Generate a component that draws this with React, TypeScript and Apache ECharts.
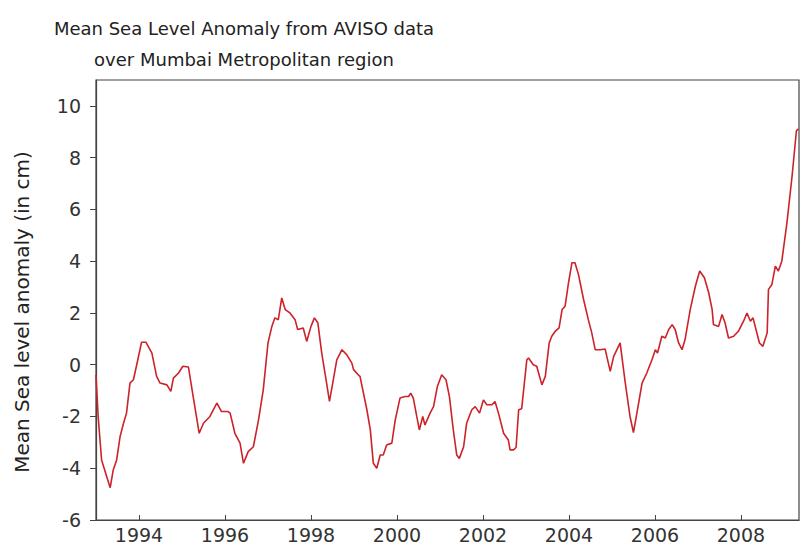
import React, { useEffect, useRef } from "react";
import * as echarts from "echarts";

// Decimal years
const years: number[] = [
  1993.0, 1993.05, 1993.13, 1993.25, 1993.33, 1993.4, 1993.48, 1993.56, 1993.64, 1993.71,
  1993.79, 1993.87, 1993.94, 1994.06, 1994.16, 1994.3, 1994.41, 1994.49, 1994.65, 1994.74,
  1994.8, 1994.92, 1995.02, 1995.15, 1995.26, 1995.4, 1995.5, 1995.65, 1995.81, 1995.92,
  1996.07, 1996.12, 1996.23, 1996.35, 1996.43, 1996.54, 1996.66, 1996.78, 1996.89, 1997.0,
  1997.09, 1997.16, 1997.24, 1997.32, 1997.4, 1997.51, 1997.63, 1997.69, 1997.82, 1997.9,
  1998.0, 1998.08, 1998.16, 1998.25, 1998.35, 1998.43, 1998.52, 1998.6, 1998.72, 1998.83,
  1998.95, 1998.99, 1999.1, 1999.14, 1999.3, 1999.38, 1999.45, 1999.53, 1999.61, 1999.68,
  1999.76, 1999.88, 1999.96, 2000.07, 2000.19, 2000.27, 2000.32, 2000.38, 2000.46, 2000.52,
  2000.6, 2000.65, 2000.77, 2000.85, 2000.94, 2001.04, 2001.14, 2001.22, 2001.31, 2001.39,
  2001.45, 2001.55, 2001.62, 2001.74, 2001.82, 2001.92, 2002.01, 2002.09, 2002.21, 2002.28,
  2002.36, 2002.48, 2002.59, 2002.63, 2002.71, 2002.77, 2002.83, 2002.9, 2003.02, 2003.06,
  2003.17, 2003.25, 2003.37, 2003.45, 2003.54, 2003.6, 2003.68, 2003.77, 2003.84, 2003.91,
  2003.99, 2004.07, 2004.14, 2004.22, 2004.34, 2004.45, 2004.53, 2004.61, 2004.73, 2004.84,
  2004.96, 2005.04, 2005.19, 2005.31, 2005.42, 2005.5, 2005.58, 2005.7, 2005.81, 2005.93,
  2006.01, 2006.06, 2006.16, 2006.24, 2006.32, 2006.4, 2006.47, 2006.55, 2006.63, 2006.7,
  2006.82, 2006.94, 2007.04, 2007.15, 2007.25, 2007.33, 2007.36, 2007.48, 2007.56, 2007.63,
  2007.71, 2007.83, 2007.94, 2008.06, 2008.14, 2008.22, 2008.28, 2008.36, 2008.43, 2008.51,
  2008.61, 2008.64, 2008.72, 2008.8, 2008.87, 2008.95, 2009.07, 2009.19, 2009.29, 2009.34,
];

// Mean sea level anomaly (cm) at those times
const anomaly: number[] = [
  -0.4, -2.0, -3.68, -4.33, -4.75, -4.07, -3.68, -2.78, -2.26, -1.87,
  -0.71, -0.58, -0.06, 0.87, 0.87, 0.45, -0.45, -0.71, -0.78, -1.03,
  -0.52, -0.32, -0.06, -0.09, -1.23, -2.65, -2.26, -2.0, -1.48, -1.81,
  -1.81, -1.87, -2.65, -3.03, -3.81, -3.36, -3.17, -2.13, -0.97, 0.84,
  1.48, 1.81, 1.74, 2.58, 2.13, 2.0, 1.74, 1.36, 1.42, 0.9,
  1.48, 1.81, 1.62, 0.45, -0.58, -1.42, -0.58, 0.19, 0.58, 0.39,
  0.06, -0.19, -0.39, -0.45, -1.74, -2.52, -3.81, -4.0, -3.49, -3.49,
  -3.1, -3.03, -2.13, -1.29, -1.23, -1.23, -1.1, -1.29, -2.0, -2.52,
  -2.0, -2.33, -1.87, -1.62, -0.84, -0.39, -0.58, -1.23, -2.52, -3.49,
  -3.62, -3.17, -2.26, -1.74, -1.62, -1.87, -1.36, -1.55, -1.55, -1.42,
  -1.87, -2.65, -2.91, -3.29, -3.29, -3.2, -1.74, -1.7, 0.19, 0.26,
  0.0, -0.06, -0.78, -0.45, 0.84, 1.1, 1.29, 1.42, 2.13, 2.26,
  3.17, 3.94, 3.94, 3.49, 2.52, 1.74, 1.23, 0.58, 0.58, 0.61,
  -0.26, 0.32, 0.84, -0.71, -2.0, -2.62, -1.87, -0.71, -0.32, 0.19,
  0.58, 0.45, 1.1, 1.03, 1.36, 1.55, 1.36, 0.84, 0.58, 0.97,
  2.13, 3.03, 3.62, 3.36, 2.78, 2.13, 1.55, 1.48, 1.94, 1.62,
  1.03, 1.1, 1.29, 1.68, 2.0, 1.68, 1.81, 1.29, 0.84, 0.71,
  1.23, 2.91, 3.1, 3.81, 3.62, 4.0, 5.49, 7.3, 9.04, 9.11,
];

const yearTicks: number[] = [1994, 1996, 1998, 2000, 2002, 2004, 2006, 2008];

const titleLines: string[] = [
  "Mean Sea Level Anomaly from AVISO data",
  "over Mumbai Metropolitan region",
];
const yAxisTitle = "Mean Sea level anomaly (in cm)";

const FONT = "'DejaVu Sans', sans-serif";

export default function App() {
  const ref = useRef<HTMLDivElement>(null);

  useEffect(() => {
    if (!ref.current) return;
    const chart = echarts.init(ref.current, null, { renderer: "svg" });
    const seriesData = years.map((y, i) => [y, anomaly[i]]);

    chart.setOption({
      animation: false,
      backgroundColor: "#ffffff",
      grid: {
        left: 96,
        right: 1,
        top: 80,
        bottom: 26,
        show: true,
        borderColor: "#444",
        borderWidth: 1.2,
        containLabel: false,
      },
      graphic: [
        {
          type: "text",
          x: 244,
          y: 28,
          style: {
            text: titleLines[0],
            fontFamily: FONT,
            fontSize: 18,
            fill: "#222",
            textAlign: "center",
            textVerticalAlign: "middle",
          },
        },
        {
          type: "text",
          x: 244,
          y: 59,
          style: {
            text: titleLines[1],
            fontFamily: FONT,
            fontSize: 18,
            fill: "#222",
            textAlign: "center",
            textVerticalAlign: "middle",
          },
        },
        {
          type: "text",
          x: 22,
          y: 312,
          rotation: Math.PI / 2,
          style: {
            text: yAxisTitle,
            fontFamily: FONT,
            fontSize: 20,
            fill: "#222",
            textAlign: "center",
            textVerticalAlign: "middle",
          },
        },
      ],
      xAxis: {
        type: "value",
        min: 1993,
        max: 2009.35,
        splitLine: { show: false },
        axisLine: { show: true, onZero: false, lineStyle: { color: "#444", width: 1.2 } },
        axisTick: {
          show: true,
          inside: true,
          length: 5,
          customValues: yearTicks,
          lineStyle: { color: "#444" },
        },
        axisLabel: {
          customValues: yearTicks,
          formatter: (v: number) => String(v),
          fontFamily: FONT,
          fontSize: 19,
          color: "#333",
          margin: 5,
        },
      },
      yAxis: {
        type: "value",
        min: -6,
        max: 11,
        interval: 2,
        splitLine: { show: false },
        axisLine: { show: true, lineStyle: { color: "#444", width: 1.2 } },
        axisTick: { show: true, inside: false, length: 6, lineStyle: { color: "#444" } },
        axisLabel: {
          fontFamily: FONT,
          fontSize: 19,
          color: "#333",
          margin: 15,
          showMaxLabel: false,
        },
      },
      series: [
        {
          type: "line",
          data: seriesData,
          showSymbol: false,
          symbol: "none",
          lineStyle: { color: "#cc2229", width: 1.6 },
          clip: true,
        },
      ],
    });

    return () => chart.dispose();
  }, []);

  return (
    <div
      ref={ref}
      style={{ position: "absolute", left: 0, top: 0, width: 800, height: 546 }}
    />
  );
}
